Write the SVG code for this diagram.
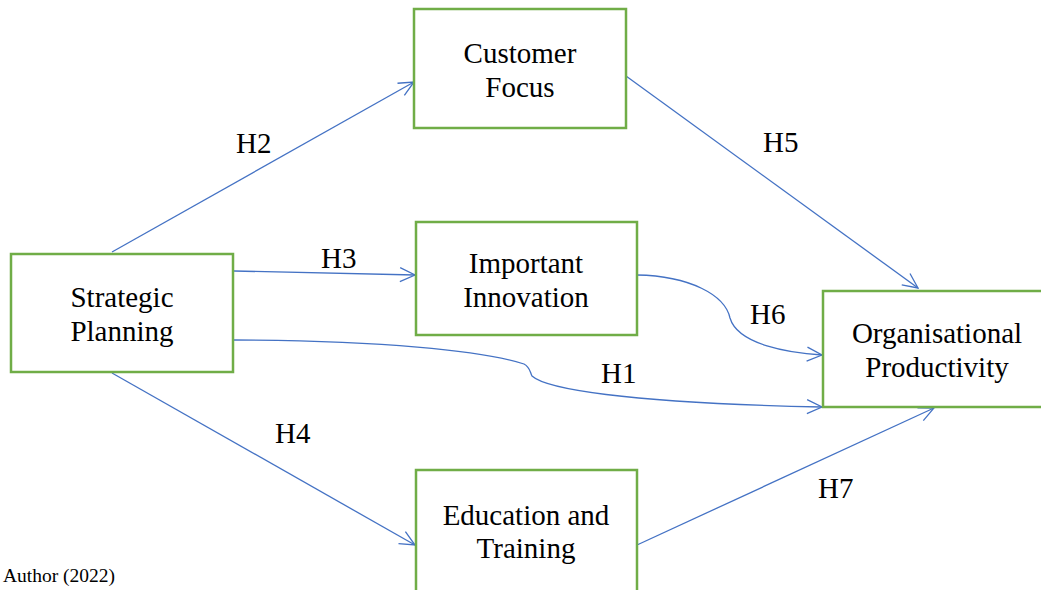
<svg xmlns="http://www.w3.org/2000/svg" width="1041" height="590" viewBox="0 0 1041 590">
<style>
.box{fill:#fff;stroke:#70AD47;stroke-width:2.5}
.t{font-size:29px;fill:#000}
.c{text-anchor:middle}
.e{fill:none;stroke:#4472C4;stroke-width:1.3;marker-end:url(#ah)}
</style>
<defs>
<marker id="ah" viewBox="-16 -8 17 16" refX="0" refY="0" markerWidth="17" markerHeight="16" markerUnits="userSpaceOnUse" orient="auto">
<path d="M-15,-7 L0,0 L-15,7" fill="none" stroke="#4472C4" stroke-width="1.3"/>
</marker>
</defs>
<rect width="1041" height="590" fill="#fff"/>
<g id="connectors">
<path class="e" d="M112,252 L414,82"/>
<path class="e" d="M234,271 L415,275"/>
<path class="e" d="M234,340 C380,341 480,350 524,364 C530,367 530,372 532,376 C545,388 620,403 822,407"/>
<path class="e" d="M637,275 C690,276 725,295 730,318 C738,345 790,353 822,355"/>
<path class="e" d="M112,373 L415,545"/>
<path class="e" d="M626,76 L918,288"/>
<path class="e" d="M637,545 L934,408"/>
</g>
<g id="labels" font-family="Liberation Serif, Times New Roman, DejaVu Serif, serif">
<text class="t" x="236" y="153">H2</text>
<text class="t" x="321" y="268">H3</text>
<text class="t" x="763" y="152">H5</text>
<text class="t" x="750" y="324">H6</text>
<text class="t" x="601" y="383">H1</text>
<text class="t" x="275" y="443">H4</text>
<text class="t" x="818" y="498">H7</text>
</g>
<g id="nodes" font-family="Liberation Serif, Times New Roman, DejaVu Serif, serif">
<g id="strategic-planning">
<rect class="box" x="11" y="254" width="222" height="118"/>
<text class="t c" x="122" y="307">Strategic</text>
<text class="t c" x="122" y="341">Planning</text>
</g>
<g id="customer-focus">
<rect class="box" x="414" y="9" width="212" height="119"/>
<text class="t c" x="520" y="63">Customer</text>
<text class="t c" x="520" y="97">Focus</text>
</g>
<g id="important-innovation">
<rect class="box" x="416" y="222" width="221" height="113"/>
<text class="t c" x="526" y="273">Important</text>
<text class="t c" x="526" y="307">Innovation</text>
</g>
<g id="organisational-productivity">
<rect class="box" x="823" y="291" width="229" height="116"/>
<text class="t c" x="937" y="343">Organisational</text>
<text class="t c" x="937" y="377">Productivity</text>
</g>
<g id="education-training">
<rect class="box" x="416" y="470" width="221" height="140"/>
<text class="t c" x="526" y="525">Education and</text>
<text class="t c" x="526" y="558">Training</text>
</g>
</g>
<text x="3" y="582" font-family="Liberation Serif, Times New Roman, DejaVu Serif, serif" font-size="19.5" fill="#000">Author (2022)</text>
</svg>
